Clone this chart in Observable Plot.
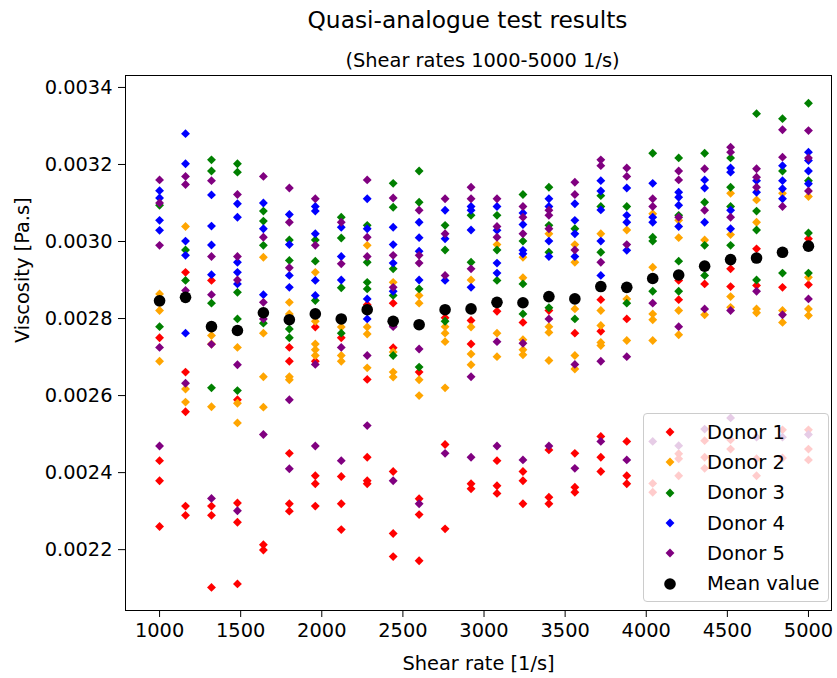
<!DOCTYPE html>
<html>
<head>
<meta charset="utf-8">
<script src="https://cdn.jsdelivr.net/npm/d3@7"></script>
<script src="https://cdn.jsdelivr.net/npm/@observablehq/plot@0.6"></script>
<style>
  body { margin: 0; background: #fff; font-family: "DejaVu Sans", sans-serif; }
  #wrap { position: relative; width: 837px; height: 678px; }
  #legend {
    position: absolute; left: 643px; top: 413px; width: 184px; height: 184px;
    background: rgba(255,255,255,0.8); border: 1px solid #cccccc; border-radius: 4px;
    box-sizing: content-box; padding-top: 3px;
  }
  .row { display: flex; align-items: center; height: 30.3px; font-size: 19.5px; color: #000; }
  .row svg { flex: none; }
</style>
</head>
<body>
<div id="wrap"></div>
<script>
const shearRates = [1000,1160,1320,1480,1640,1800,1960,2120,2280,2440,2600,2760,2920,3080,3240,3400,3560,3720,3880,4040,4200,4360,4520,4680,4840,5000];

const donorNames = ["Donor 1","Donor 2","Donor 3","Donor 4","Donor 5"];
const donorColors = ["red","orange","green","blue","purple"];

const donor1 = [
 [0.002750,0.002431,0.002379,0.002260],
 [0.002920,0.002661,0.002558,0.002313,0.002289],
 [0.002899,0.002313,0.002289,0.002102],
 [0.002589,0.002321,0.002271,0.002111],
 [0.002213,0.002199],
 [0.002725,0.002689,0.002450,0.002319,0.002300],
 [0.002778,0.002689,0.002392,0.002371,0.002313],
 [0.002750,0.002390,0.002319,0.002252],
 [0.002836,0.002642,0.002440,0.002379,0.002371],
 [0.002840,0.002724,0.002403,0.002242,0.002182],
 [0.002661,0.002332,0.002291,0.002171],
 [0.002802,0.002473,0.002254],
 [0.002795,0.002734,0.002371,0.002358],
 [0.002819,0.002431,0.002366,0.002346],
 [0.002790,0.002403,0.002379,0.002319],
 [0.002821,0.002459,0.002336,0.002319],
 [0.002762,0.002450,0.002362,0.002349],
 [0.002849,0.002767,0.002494,0.002440,0.002403],
 [0.002799,0.002481,0.002392,0.002371],
 [0.002372,0.002349],
 [0.002899,0.002849,0.002449,0.002436,0.002392],
 [0.002890,0.002483,0.002440,0.002411],
 [0.002929,0.002883,0.002485,0.002461],
 [0.002981,0.002886,0.002436,0.002392],
 [0.002881,0.002511,0.002438],
 [0.003007,0.002888,0.002511,0.002461,0.002433]
];

const donor2 = [
 [0.002864,0.002840,0.002821,0.002689],
 [0.003039,0.002617,0.002583],
 [0.002756,0.002734,0.002571],
 [0.002725,0.002580,0.002529],
 [0.002959,0.002762,0.002649,0.002570],
 [0.002842,0.002812,0.002649,0.002641],
 [0.002920,0.002793,0.002734,0.002719,0.002704],
 [0.002778,0.002704,0.002689],
 [0.002990,0.002778,0.002760,0.002672],
 [0.002894,0.002713,0.002661,0.002648],
 [0.002860,0.002840,0.002641,0.002600],
 [0.002779,0.002762,0.002740,0.002620],
 [0.002900,0.002778,0.002708,0.002680],
 [0.002992,0.002762,0.002701],
 [0.002959,0.002906,0.002745,0.002719,0.002706],
 [0.003020,0.002779,0.002764,0.002691],
 [0.002992,0.002946,0.002825,0.002704,0.002669],
 [0.003020,0.002821,0.002782,0.002738,0.002730],
 [0.003030,0.002851,0.002743],
 [0.003072,0.002933,0.002812,0.002797,0.002743],
 [0.003055,0.003010,0.002821,0.002758],
 [0.003004,0.002810],
 [0.003125,0.003018,0.002857,0.002829],
 [0.003108,0.003050,0.002825,0.002815],
 [0.003125,0.002821,0.002790],
 [0.003117,0.002907,0.002825,0.002808]
];

const donor3 = [
 [0.003094,0.002779],
 [0.002978,0.002899],
 [0.003212,0.003183,0.002840,0.002620],
 [0.003202,0.003180,0.002868,0.002799,0.002613],
 [0.003079,0.003053,0.002990,0.002788],
 [0.003004,0.002951,0.002773,0.002750],
 [0.003004,0.002949,0.002847],
 [0.003063,0.003009,0.002880,0.002762],
 [0.003042,0.002946,0.002894,0.002877],
 [0.003151,0.003089,0.002929,0.002860,0.002704],
 [0.003183,0.003102,0.002877,0.002674],
 [0.003042,0.002978,0.002793],
 [0.003068,0.002946],
 [0.003068,0.002978,0.002899],
 [0.003122,0.003001,0.002890,0.002812],
 [0.003141,0.003042,0.002972,0.002828],
 [0.003033,0.002799],
 [0.003119,0.003091,0.002972],
 [0.003091,0.002840],
 [0.003229,0.003011,0.003001,0.002871],
 [0.003217,0.003068,0.002949,0.002871],
 [0.003229,0.003102,0.002990,0.002912],
 [0.003217,0.003141,0.003091,0.002990],
 [0.003332,0.003079,0.003030,0.002900],
 [0.003319,0.003183,0.002918],
 [0.003359,0.003158,0.003022,0.002918]
];

const donor4 = [
 [0.003132,0.003113,0.003055,0.003029],
 [0.003280,0.003202,0.003001,0.002964,0.002762],
 [0.003121,0.003040,0.002991,0.002914],
 [0.003098,0.003063,0.002946,0.002920,0.002890],
 [0.003100,0.003033,0.002862],
 [0.003070,0.002992,0.002912,0.002881],
 [0.003091,0.003079,0.003020,0.002899,0.002860],
 [0.003037,0.002961,0.002900],
 [0.003111,0.003033,0.002851,0.002799],
 [0.003037,0.002992,0.002944,0.002871],
 [0.003050,0.003010,0.002975,0.002900],
 [0.003081,0.003007,0.002899],
 [0.003091,0.003081,0.003030,0.002881],
 [0.003091,0.003029,0.002944,0.002918],
 [0.003074,0.003044,0.002977,0.002968],
 [0.003111,0.003091,0.003001,0.002961],
 [0.003098,0.003055,0.003020,0.002961],
 [0.003158,0.003131,0.003082,0.003001,0.002912],
 [0.003139,0.003068,0.003050,0.002977],
 [0.003151,0.003063,0.003050],
 [0.003128,0.003115,0.003094,0.003039],
 [0.003160,0.003139,0.003050],
 [0.003191,0.003180,0.003081,0.003033],
 [0.003158,0.003128],
 [0.003197,0.003158,0.003137,0.003111],
 [0.003232,0.003210,0.003183,0.003150]
];

const donor5 = [
 [0.003160,0.003100,0.002990,0.002725,0.002469],
 [0.003169,0.003148,0.002873,0.002632],
 [0.003158,0.002961,0.002862,0.002733,0.002333],
 [0.003122,0.002961,0.002900,0.002680,0.002301],
 [0.003169,0.003011,0.002842,0.002799,0.002499],
 [0.003139,0.003050,0.002932,0.002589,0.002410],
 [0.003111,0.002990,0.002681,0.002469],
 [0.003050,0.002942,0.002725,0.002431],
 [0.003160,0.003011,0.002961,0.002704,0.002522],
 [0.003113,0.002964,0.002881,0.002779,0.002379],
 [0.003081,0.002964,0.002944,0.002721,0.002319],
 [0.003111,0.003020,0.002912,0.002450],
 [0.003141,0.003111,0.002929,0.002649,0.002440],
 [0.003111,0.003039,0.003011,0.002740,0.002469],
 [0.003091,0.003063,0.003020,0.002736,0.002433],
 [0.003081,0.003068,0.003033,0.002799,0.002469],
 [0.003154,0.003122,0.002978,0.002681,0.002411],
 [0.003212,0.003197,0.002946,0.002689,0.002481],
 [0.003191,0.003169,0.002992,0.002701,0.002433],
 [0.003111,0.003091,0.002840,0.002481],
 [0.003183,0.003160,0.003063,0.002779,0.002470],
 [0.003189,0.003081,0.002825,0.002513],
 [0.003245,0.003232,0.003063,0.002821,0.002542],
 [0.003189,0.003167,0.003141,0.002871,0.002492],
 [0.003290,0.003219,0.003091,0.002810,0.002492],
 [0.003288,0.003217,0.003131,0.002851,0.002499]
];

const meanValue = [0.002846,0.002855,0.002779,0.002769,0.002815,0.002797,0.002812,0.002799,0.002823,0.002793,0.002784,0.002823,0.002825,0.002842,0.002841,0.002857,0.002851,0.002883,0.002881,0.002904,0.002913,0.002936,0.002953,0.002957,0.002972,0.002988];

const xTicks = [1000,1500,2000,2500,3000,3500,4000,4500,5000];
const yTicks = [0.0022,0.0024,0.0026,0.0028,0.0030,0.0032,0.0034];

const titleText = "Quasi-analogue test results";
const subtitleText = "(Shear rates 1000-5000 1/s)";
const xLabel = "Shear rate [1/s]";
const yLabel = "Viscosity [Pa.s]";

const donorSeries = [donor1, donor2, donor3, donor4, donor5];
const points = [];
donorSeries.forEach((series, i) => {
  series.forEach((vals, j) => {
    vals.forEach(v => points.push({donor: donorNames[i], x: shearRates[j], v}));
  });
});
const means = shearRates.map((x, j) => ({x, v: meanValue[j]}));

const font = "DejaVu Sans, sans-serif";

const chart = Plot.plot({
  width: 837,
  height: 678,
  marginLeft: 125,
  marginRight: 6,
  marginTop: 75,
  marginBottom: 68,
  style: {fontFamily: font, fontSize: "19.4px", color: "#000", background: "#fff"},
  x: {domain: [790, 5142], ticks: xTicks},
  y: {domain: [0.002042, 0.003431], ticks: yTicks},
  color: {domain: donorNames, range: donorColors},
  marks: [
    Plot.dot(points, {x: "x", y: "v", fill: "donor", symbol: "diamond2", r: 4}),
    Plot.dot(means, {x: "x", y: "v", fill: "black", r: 5.8}),
    Plot.frame({stroke: "#000", strokeWidth: 1}),
    Plot.axisX({ticks: xTicks, tickSize: 7, tickPadding: 6, label: null, fontSize: 19.4, tickFormat: d3.format("d")}),
    Plot.axisY({ticks: yTicks, tickSize: 7, tickPadding: 6, label: null, fontSize: 19.4, tickFormat: d3.format(".4f")}),
    Plot.text([xLabel], {frameAnchor: "bottom", dy: 53, text: d => d, fontSize: 19.4, lineAnchor: "middle", fill: "#000"}),
    Plot.text([yLabel], {frameAnchor: "left", dx: -103, rotate: -90, text: d => d, fontSize: 19.4, lineAnchor: "middle", fill: "#000"}),
    Plot.text([titleText], {frameAnchor: "top", dx: -11, dy: -55, text: d => d, fontSize: 23.3, lineAnchor: "middle", fill: "#000"}),
    Plot.text([subtitleText], {frameAnchor: "top", dx: 4, dy: -15, text: d => d, fontSize: 19.4, lineAnchor: "middle", fill: "#000"})
  ]
});

const wrap = document.getElementById("wrap");
wrap.appendChild(chart);

// legend
const legend = document.createElement("div");
legend.id = "legend";
const entries = donorNames.map((n, i) => ({name: n, color: donorColors[i], shape: "diamond"}))
  .concat([{name: "Mean value", color: "black", shape: "circle"}]);
for (const e of entries) {
  const row = document.createElement("div");
  row.className = "row";
  const ns = "http://www.w3.org/2000/svg";
  const s = document.createElementNS(ns, "svg");
  s.setAttribute("width", 63); s.setAttribute("height", 30);
  if (e.shape === "diamond") {
    const p = document.createElementNS(ns, "path");
    p.setAttribute("d", d3.symbol(d3.symbolDiamond2, Math.PI * 16)());
    p.setAttribute("transform", "translate(26,15)");
    p.setAttribute("fill", e.color);
    s.appendChild(p);
  } else {
    const c = document.createElementNS(ns, "circle");
    c.setAttribute("cx", 26); c.setAttribute("cy", 15); c.setAttribute("r", 5.8);
    c.setAttribute("fill", e.color);
    s.appendChild(c);
  }
  row.appendChild(s);
  const t = document.createElement("span");
  t.textContent = e.name;
  row.appendChild(t);
  legend.appendChild(row);
}
wrap.appendChild(legend);
</script>
</body>
</html>
